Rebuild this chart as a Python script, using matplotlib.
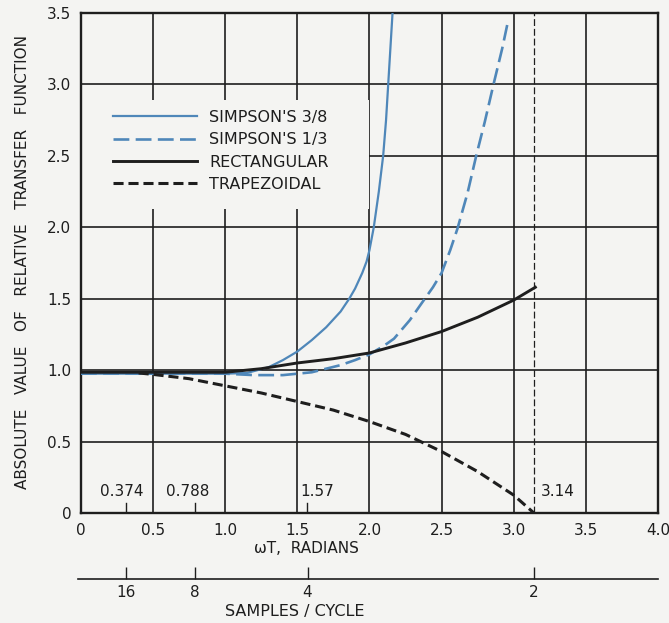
import matplotlib.pyplot as plt
from matplotlib.lines import Line2D
from matplotlib.patches import Rectangle

# values
simp38_wt = [0, 1.0, 1.15, 1.3, 1.4, 1.5, 1.6, 1.7, 1.8, 1.86, 1.9, 1.95, 1.98, 2.0, 2.03, 2.065, 2.095,
             2.115, 2.13, 2.145, 2.16]
simp38_val = [0.975, 0.975, 0.98, 1.02, 1.07, 1.13, 1.21, 1.30, 1.41, 1.5, 1.57, 1.68, 1.76, 1.84, 2.0, 2.25,
              2.5, 2.75, 3.0, 3.25, 3.5]

simp13_wt = [0, 1.0, 1.2, 1.4, 1.6, 1.8, 1.9, 2.0, 2.1, 2.17, 2.28, 2.37, 2.44, 2.5, 2.56, 2.61, 2.68,
             2.74, 2.80, 2.86, 2.92, 2.96]
simp13_val = [0.975, 0.975, 0.965, 0.965, 0.985, 1.035, 1.07, 1.11, 1.17, 1.22, 1.35, 1.48, 1.58, 1.68, 1.84,
              1.99, 2.24, 2.5, 2.74, 3.0, 3.25, 3.44]

rect_wt = [0, 1.0, 1.25, 1.5, 1.75, 2.0, 2.25, 2.5, 2.75, 3.0, 3.15]
rect_val = [0.985, 0.985, 1.01, 1.05, 1.08, 1.12, 1.19, 1.27, 1.37, 1.49, 1.58]

trap_wt = [0.4, 0.5, 0.75, 1.0, 1.25, 1.5, 1.75, 2.0, 2.25, 2.5, 2.75, 3.0, 3.14]
trap_val = [0.98, 0.97, 0.94, 0.89, 0.84, 0.78, 0.72, 0.64, 0.55, 0.43, 0.29, 0.125, 0.0]

sample_pos = [0.31, 0.79, 1.57, 3.14]
sample_labels = ['16', '8', '4', '2']
rad_labels = ['0.374', '0.788', '1.57', '3.14']

xticks = [0, 0.5, 1.0, 1.5, 2.0, 2.5, 3.0, 3.5, 4.0]
xticklabels = ['0', '0.5', '1.0', '1.5', '2.0', '2.5', '3.0', '3.5', '4.0']
yticks = [0, 0.5, 1.0, 1.5, 2.0, 2.5, 3.0, 3.5]
yticklabels = ['0', '0.5', '1.0', '1.5', '2.0', '2.5', '3.0', '3.5']

bg = '#f4f4f2'
blue = '#4f87b9'
ink = '#1e1e1e'

fig = plt.figure(figsize=(6.69, 6.23), dpi=100, facecolor=bg)
ax = fig.add_axes([0.121, 0.1766, 0.8625, 0.8026], facecolor=bg)

ax.set_xlim(0, 4)
ax.set_ylim(0, 3.5)
ax.set_xticks(xticks)
ax.set_xticklabels(xticklabels)
ax.set_yticks(yticks)
ax.set_yticklabels(yticklabels)
ax.tick_params(length=0, labelsize=11, colors=ink, pad=7)
ax.set_axisbelow(True)
ax.grid(True, color=ink, lw=1.2)
for s in ax.spines.values():
    s.set_linewidth(1.7)
    s.set_color(ink)

# blank area behind the legend
ax.add_patch(Rectangle((0, 2.13), 2.0, 0.76, facecolor=bg, edgecolor='none', zorder=1))

ax.plot(simp38_wt, simp38_val, color=blue, lw=1.6, zorder=3)
ax.plot(simp13_wt, simp13_val, color=blue, lw=1.9, dashes=(6, 2.4), zorder=3)
ax.plot(rect_wt, rect_val, color=ink, lw=2.1, zorder=4)
ax.plot(trap_wt, trap_val, color=ink, lw=2.2, dashes=(3.3, 1.6), zorder=4)

# pi line
ax.plot([3.14, 3.14], [0, 3.5], color=ink, lw=0.9, dashes=(5.5, 2.3), zorder=3)

# small ticks with radian values inside the plot
for p in sample_pos[:3]:
    ax.plot([p, p], [0, 0.07], color=ink, lw=1.0, zorder=3)
ax.text(0.285, 0.148, rad_labels[0], ha='center', va='center', fontsize=11, color=ink)
ax.text(0.74, 0.148, rad_labels[1], ha='center', va='center', fontsize=11, color=ink)
ax.text(1.52, 0.148, rad_labels[2], ha='left', va='center', fontsize=11, color=ink)
ax.text(3.19, 0.148, rad_labels[3], ha='left', va='center', fontsize=11, color=ink)

handles = [
    Line2D([], [], color=blue, lw=1.6),
    Line2D([], [], color=blue, lw=1.9, dashes=(6, 2.4)),
    Line2D([], [], color=ink, lw=2.1),
    Line2D([], [], color=ink, lw=2.2, dashes=(3.3, 1.6)),
]
labels = ["SIMPSON'S 3/8", "SIMPSON'S 1/3", 'RECTANGULAR', 'TRAPEZOIDAL']
ax.legend(handles, labels, loc='upper left', bbox_to_anchor=(0.055, 0.806),
          frameon=False, fontsize=11.5, handlelength=5.25, handletextpad=0.8,
          labelspacing=0.46, borderpad=0, borderaxespad=0, labelcolor=ink)

ax.text(0.39, -0.072, 'ωT,  RADIANS', transform=ax.transAxes,
        ha='center', va='center', fontsize=11, color=ink)
fig.text(0.033, 0.579, 'ABSOLUTE   VALUE   OF   RELATIVE   TRANSFER   FUNCTION',
         rotation=90, ha='center', va='center', fontsize=11, color=ink)

# second scale: samples per cycle
ax2 = fig.add_axes([0.117, 0.0706, 0.8665, 0.0001], facecolor='none')
ax2.set_xlim(-0.02, 4)
ax2.set_yticks([])
for side in ['left', 'right', 'top']:
    ax2.spines[side].set_visible(False)
ax2.spines['bottom'].set_linewidth(1.2)
ax2.spines['bottom'].set_color(ink)
ax2.set_xticks(sample_pos)
ax2.set_xticklabels(sample_labels)
ax2.tick_params(axis='x', direction='in', length=9, width=1.0, colors=ink,
                labelsize=11, pad=4)
fig.text(0.44, 0.018, 'SAMPLES / CYCLE', ha='center', va='center', fontsize=11.5, color=ink)

fig.savefig('out.png', dpi=100, facecolor=bg)
